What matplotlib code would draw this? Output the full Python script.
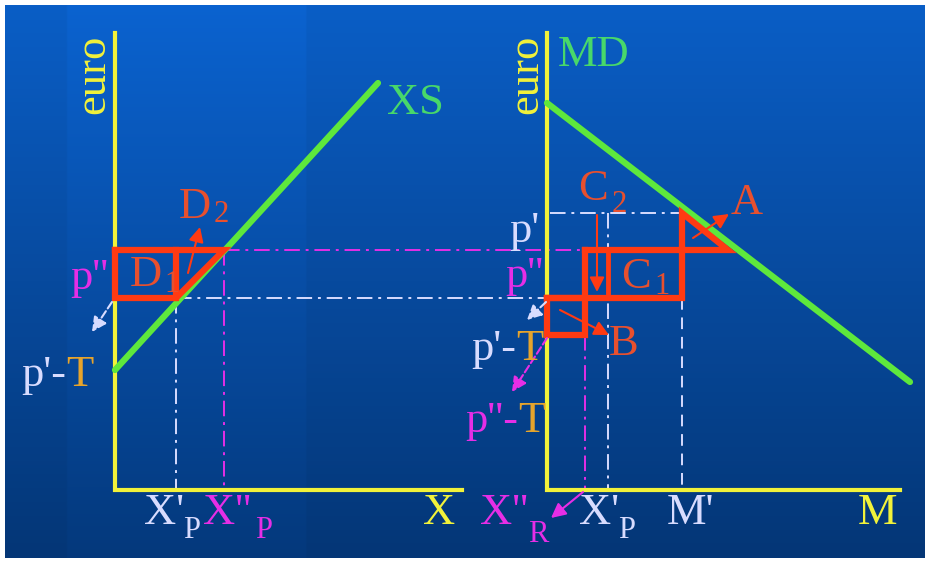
import numpy as np
import matplotlib.pyplot as plt

plt.rcParams['font.family'] = ['Liberation Serif', 'DejaVu Serif']

# slide grid: x to the right, y downward (pixels of the 929x563 slide)
axis_top, axis_bottom = 33, 490
left_origin, left_end = 115, 462
right_origin, right_end = 547, 900

# curves
xs_x = [115, 378]
xs_y = [370, 83]
md_x = [547, 910]
md_y = [103, 382]

# price levels
p_prime = 213        # p'
p_dd = 250           # p''
p_low = 298          # lower level shared by both panels
p_prime_T = 335      # p'-T (right panel)

# quantities
xp_left = 176        # X'_P (left)
xpp_left = 224       # X''_P (left)
xr_right = 585       # X''_R
xp_right = 608       # X'_P (right)
m_prime = 682        # M'
m_tri = 728          # where p'' meets MD under the triangle A

YELLOW = '#f2f23a'
GREEN = '#5ee83c'
GREEN_TXT = '#48d86a'
RED = '#ff3a12'
RED_TXT = '#e8502e'
MAGENTA = '#e62ee6'
LAV = '#d8dcff'
ORANGE = '#e6a42c'

fig = plt.figure(figsize=(9.29, 5.63), dpi=100, facecolor='white')
ax = fig.add_axes([0, 0, 1, 1])
ax.set_xlim(0, 929)
ax.set_ylim(563, 0)
ax.axis('off')

# background gradient
h, w = 240, 400
t = np.linspace(0, 1, h)[:, None, None]
top = np.array([10, 94, 198]) / 255
bot = np.array([4, 54, 118]) / 255
img = top * (1 - t) + bot * t
img = np.repeat(img, w, axis=1)
cols = np.linspace(5, 925, w)
band = (cols > 65) & (cols < 305)
img[:, band, :] = np.clip(img[:, band, :] * 1.05, 0, 1)
ax.imshow(img, extent=(5, 925, 558, 5), aspect='auto', zorder=0)

# axes (yellow)
for x0, x1 in [(left_origin, left_end), (right_origin, right_end)]:
    ax.plot([x0, x0, x1], [axis_top, axis_bottom, axis_bottom], color=YELLOW,
            lw=3, solid_joinstyle='miter', zorder=3)

# dashed guide lines
dd = dict(lw=1.4, zorder=2)
dash_dot = (0, (8, 3, 1.5, 3))
ax.plot([xpp_left, xr_right], [p_dd, p_dd], color=MAGENTA, ls=dash_dot, **dd)
ax.plot([xp_left, right_origin], [p_low, p_low], color=LAV, ls=dash_dot, **dd)
ax.plot([xp_left, xp_left], [p_low, axis_bottom], color=LAV, ls=dash_dot, **dd)
ax.plot([xpp_left, xpp_left], [p_dd, axis_bottom], color=MAGENTA, ls=dash_dot, **dd)
ax.plot([right_origin + 3, m_prime], [p_prime, p_prime], color=LAV, ls=dash_dot, **dd)
ax.plot([xp_right, xp_right], [p_prime, axis_bottom], color=LAV, ls=dash_dot, **dd)
ax.plot([m_prime, m_prime], [p_low, axis_bottom], color=LAV, ls=(0, (6, 4)), **dd)
ax.plot([xr_right, xr_right], [p_prime_T, axis_bottom], color=MAGENTA, ls=dash_dot, **dd)

# supply and demand curves
ax.plot(xs_x, xs_y, color=GREEN, lw=4.5, solid_capstyle='round', zorder=4)
ax.plot(md_x, md_y, color=GREEN, lw=4.5, solid_capstyle='round', zorder=4)

# red areas
rl = dict(color=RED, lw=4.5, solid_joinstyle='miter', zorder=5)
ax.plot([left_origin, xpp_left, xp_left, left_origin, left_origin],
        [p_dd, p_dd, p_low, p_low, p_dd], **rl)
ax.plot([xp_left, xp_left], [p_dd, p_low], **rl)
ax.plot([right_origin, xr_right, xr_right, right_origin, right_origin],
        [p_low, p_low, p_prime_T, p_prime_T, p_low], **rl)
ax.plot([xr_right, m_tri, m_prime, m_prime, right_origin],
        [p_dd, p_dd, p_prime, p_low, p_low], **rl)
ax.plot([xr_right, xr_right], [p_dd, p_low], **rl)
ax.plot([xp_right, xp_right], [p_dd, p_low], color=RED, lw=3.5, zorder=5)

# arrows
def arrow(x0, y0, x1, y1, color, ls='-', lw=1.5):
    ax.annotate('', xy=(x1, y1), xytext=(x0, y0),
                arrowprops=dict(arrowstyle='-|>', color=color, lw=lw, ls=ls,
                                mutation_scale=22, shrinkA=0, shrinkB=0),
                zorder=6)

arrow(188, 273, 200, 227, RED)                     # D2
arrow(112, 302, 92, 332, LAV, ls='--')             # left p'-T
arrow(597, 215, 597, 292, RED)                     # C2
arrow(693, 238, 729, 214, RED)                     # A
arrow(560, 310, 609, 335, RED)                     # B
arrow(546, 302, 527, 320, LAV, ls='--')            # right p'-T
arrow(547, 338, 512, 392, MAGENTA, ls='--')        # p''-T
arrow(583, 492, 551, 518, MAGENTA)                 # X''_R

# labels
FS = 32
SUB = 22

def txt(x, y, s, color, size=FS, ha='center', **kw):
    ax.text(x, y, s, color=color, fontsize=size, ha=ha, va='center', zorder=7, **kw)

txt(195, 207, 'D', RED_TXT)
txt(221, 214, '2', RED_TXT, size=SUB)
txt(146, 275, 'D', RED_TXT)
txt(172, 284, '1', RED_TXT, size=SUB)
txt(593, 189, 'C', RED_TXT)
txt(619, 205, '2', RED_TXT, size=SUB)
txt(636, 277, 'C', RED_TXT)
txt(662, 287, '1', RED_TXT, size=SUB)
txt(747, 203, 'A', RED_TXT)
txt(624, 344, 'B', RED_TXT)

txt(93, 74, 'euro', YELLOW, rotation=90)
txt(526, 74, 'euro', YELLOW, rotation=90)
txt(415, 103, 'XS', GREEN_TXT)
txt(594, 55, 'MD', GREEN_TXT)

txt(89, 278, "p''", MAGENTA)
txt(66, 375, "p'-", LAV, ha='right')
txt(66, 375, 'T', ORANGE, ha='left')

txt(524, 231, "p'", LAV)
txt(524, 276, "p''", MAGENTA)
txt(516, 349, "p'-", LAV, ha='right')
txt(516, 349, 'T', ORANGE, ha='left')
txt(518, 421, "p''-", MAGENTA, ha='right')
txt(518, 421, 'T', ORANGE, ha='left')

# axis labels along the bottom
txt(164, 513, "X'", LAV)
txt(192, 530, 'P', LAV, size=SUB)
txt(227, 513, "X''", MAGENTA)
txt(264, 530, 'P', MAGENTA, size=SUB)
txt(439, 513, 'X', YELLOW)
txt(504, 513, "X''", MAGENTA)
txt(538, 534, 'R', MAGENTA, size=SUB)
txt(599, 513, "X'", LAV)
txt(627, 530, 'P', LAV, size=SUB)
txt(691, 513, "M'", LAV)
txt(878, 513, 'M', YELLOW)

fig.savefig('out.png', dpi=100, facecolor='white')
